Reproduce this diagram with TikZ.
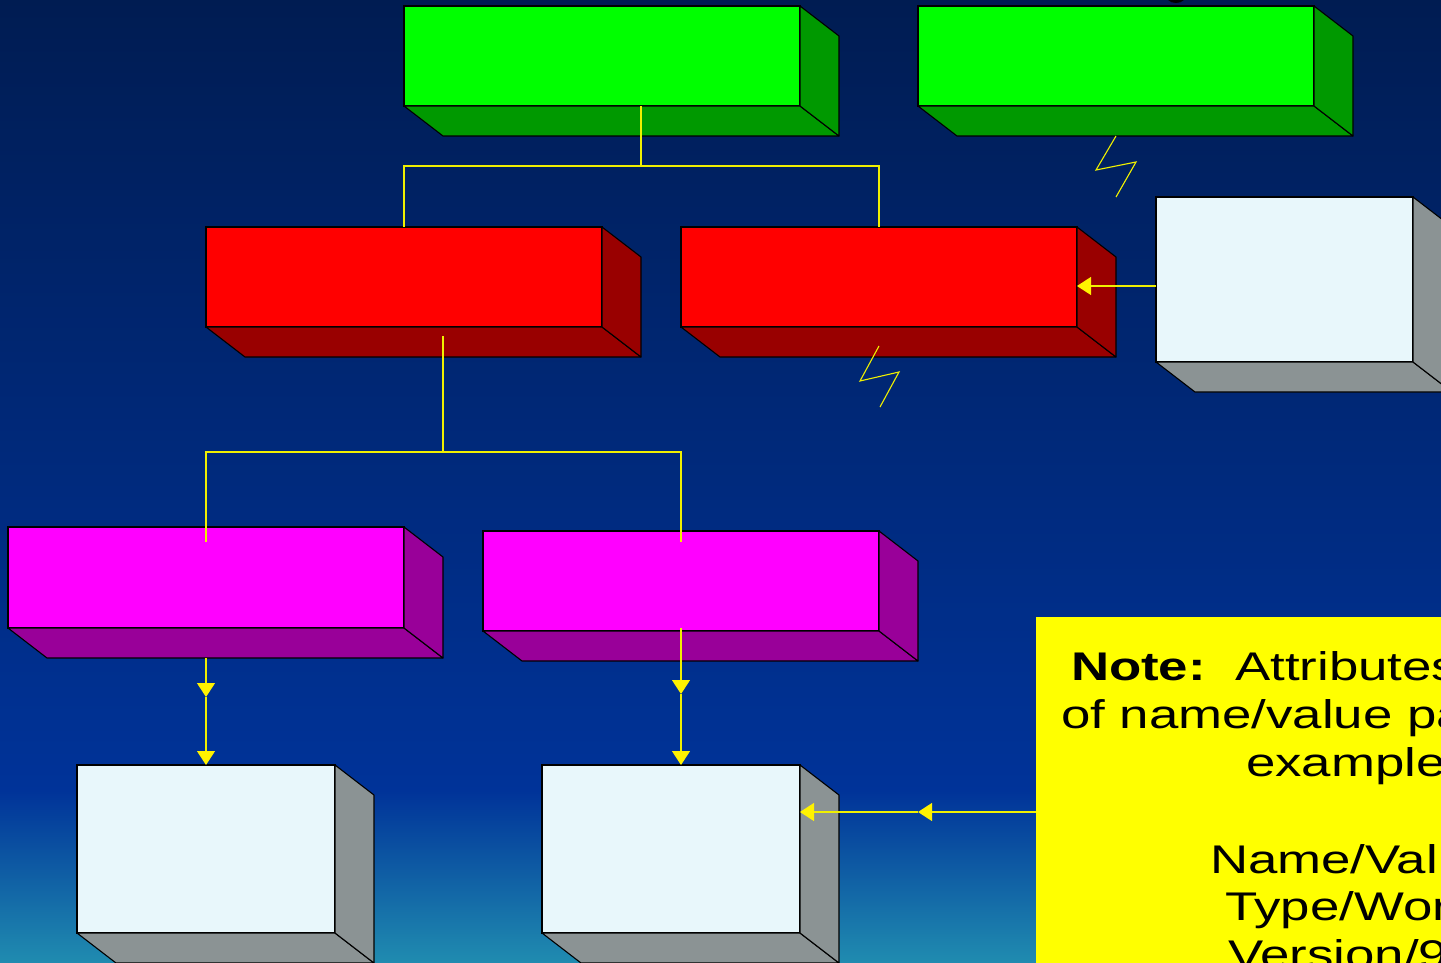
\documentclass[tikz,border=0pt]{standalone}
\usepackage{fontspec}
\setmainfont{Liberation Sans}
\usetikzlibrary{calc,arrows.meta}

\definecolor{bgtop}{RGB}{0,28,82}
\definecolor{bgmid}{RGB}{0,51,153}
\definecolor{bgbot}{RGB}{32,140,176}
\definecolor{grnF}{RGB}{0,255,0}
\definecolor{grnS}{RGB}{0,153,0}
\definecolor{redF}{RGB}{255,0,0}
\definecolor{redS}{RGB}{153,0,0}
\definecolor{magF}{RGB}{255,0,255}
\definecolor{magS}{RGB}{153,0,153}
\definecolor{lgtF}{RGB}{232,247,251}
\definecolor{lgtS}{RGB}{139,147,148}
\definecolor{wire}{RGB}{240,240,0}
\definecolor{notebg}{RGB}{255,255,0}

\tikzset{
  frontface/.style={draw=black, line width=1.1pt, inner sep=0pt, outer sep=0pt},
  sideface/.style={draw=black, line width=1.1pt, line join=round},
  conn/.style={draw=wire, line width=1.1pt},
  tipped/.style={-{Triangle[width=18pt,length=14pt,color=yellow]}},
  notetext/.style={inner sep=0pt, outer sep=0pt, anchor=base west, font=\fontsize{40}{48}\selectfont},
}

% #1 name, #2 x, #3 y (top-left of front face), #4 width, #5 height, #6 front colour, #7 side colour
\newcommand\cuboid[7]{%
  \node[frontface, fill=#6, minimum width=#4pt, minimum height=#5pt, anchor=north west] (#1) at (#2,#3) {};
  \filldraw[sideface, fill=#7] (#1.south west) -- ++(39,30) -- ($(#1.south east)+(39,30)$) -- (#1.south east) -- cycle;
  \filldraw[sideface, fill=#7] (#1.north east) -- ++(39,30) -- ($(#1.south east)+(39,30)$) -- (#1.south east) -- cycle;
}

\begin{document}
\begin{tikzpicture}[x=1pt, y=-1pt]
  \useasboundingbox (0,0) rectangle (1441,963);
  \clip (0,0) rectangle (1441,963);

  % background
  \shade[top color=bgtop, bottom color=bgmid] (0,0) rectangle (1441,792);
  \shade[top color=bgmid, bottom color=bgbot] (0,791) rectangle (1441,963);

  % fragment of a heading glyph at the top edge
  \fill[black] (1168,0) .. controls (1172,4) and (1180,4) .. (1184,0) -- cycle;

  % cuboids
  \cuboid{g1}{404}{6}{396}{100}{grnF}{grnS}
  \cuboid{g2}{918}{6}{396}{100}{grnF}{grnS}
  \cuboid{r1}{206}{227}{396}{100}{redF}{redS}
  \cuboid{r2}{681}{227}{396}{100}{redF}{redS}
  \cuboid{w1}{1156}{197}{257}{165}{lgtF}{lgtS}
  \cuboid{m1}{8}{527}{396}{101}{magF}{magS}
  \cuboid{m2}{483}{531}{396}{100}{magF}{magS}
  \cuboid{w2}{77}{765}{258}{168}{lgtF}{lgtS}
  \cuboid{w3}{542}{765}{258}{168}{lgtF}{lgtS}

  % note box
  \node[fill=notebg, inner sep=0pt, outer sep=0pt, minimum width=430pt, minimum height=370pt, anchor=north west] (note) at (1036,617) {};

  % tree connectors
  \draw[conn] ($(g1.south)+(39,0)$) -- ++(0,60) coordinate (j1);
  \draw[conn] (r1.north) |- (j1) -| (r2.north);
  \draw[conn] ($(r1.south)+(39,9)$) -- ++(0,116) coordinate (j2);
  \draw[conn] ($(m1.north)+(0,15)$) |- (j2) -| ($(m2.north)+(0,11)$);

  % arrows down to the lower boxes
  \draw[conn, tipped] ($(m1.south)+(0,30)$) -- ++(0,39) coordinate (a1);
  \draw[conn, tipped] (a1) -- (w2.north);
  \draw[conn, tipped] ($(m2.south)+(0,-3)$) -- ++(0,66) coordinate (a2);
  \draw[conn, tipped] (a2) -- ($(w3.north)+(10,0)$);

  % arrows from the side boxes
  \coordinate (nstart) at ($(note.north west)+(0,195)$);
  \draw[conn, tipped] (nstart) -- ++(-118,0) coordinate (a3);
  \draw[conn, tipped] (a3) -- ($(w3.north east)+(0,47)$);
  \draw[conn, tipped] ($(w1.north west)+(0,89)$) -- ($(r2.north east)+(0,59)$);

  % broken links
  \draw[conn, line join=miter] ($(g2.south)+(0,30)$) -- ++(-20,34) -- ++(40,-8) -- ++(-20,35);
  \draw[conn, line join=miter] ($(r2.south)+(0,19)$) -- ++(-19,35) -- ++(39,-9) -- ++(-19,35);

  % note text
  \node[notetext] (t1) at (1071,680) {\scalebox{1.32}[1]{\textbf{Note:}\ \ Attributes}};
  \node[notetext] (t2) at (1061,728) {\scalebox{1.32}[1]{of name/value pa}};
  \node[notetext] (t3) at (1246,776) {\scalebox{1.32}[1]{example}};
  \node[notetext] (t4) at (1210,873) {\scalebox{1.32}[1]{Name/Val}};
  \node[notetext] (t5) at (1225,920) {\scalebox{1.32}[1]{Type/Wor}};
  \node[notetext] (t6) at (1228,968) {\scalebox{1.32}[1]{Version/9}};
\end{tikzpicture}
\end{document}
